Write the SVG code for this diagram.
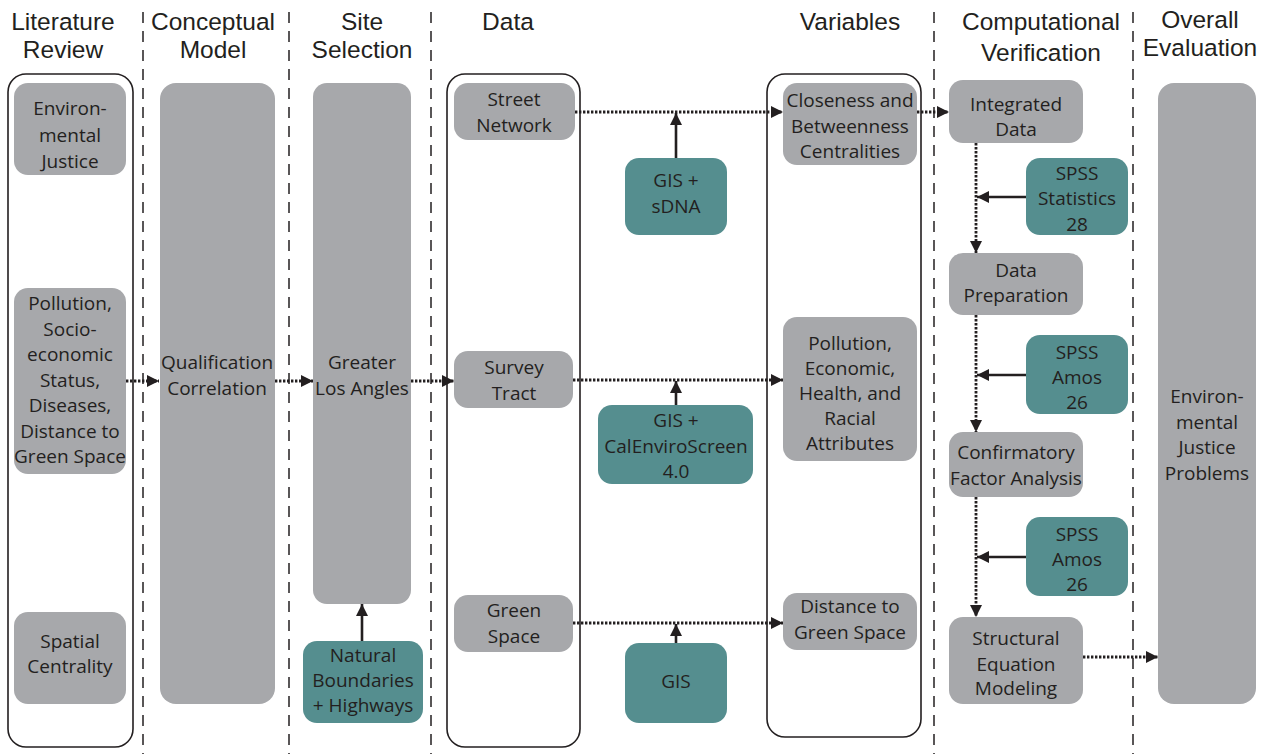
<svg xmlns="http://www.w3.org/2000/svg" width="1266" height="754" viewBox="0 0 1266 754">
<defs>
<marker id="ah" viewBox="0 0 12 12" refX="12" refY="6" markerWidth="12" markerHeight="12" markerUnits="userSpaceOnUse" orient="auto">
<path d="M0,0 L12,6 L0,12 Z" fill="#231F20"/>
</marker>
</defs>
<style>
text{font-family:"Open Sans","Liberation Sans",sans-serif;fill:#231F20;text-anchor:middle}
.h{font-family:"Liberation Sans","Open Sans",sans-serif;font-size:24.5px}
.t{font-size:19px}
.g{fill:#A7A8AB}
.k{fill:#558E8F}
.o{fill:none;stroke:#231F20;stroke-width:1.6}
.d{stroke:#231F20;stroke-width:1.5;stroke-dasharray:11 8;fill:none}
.dot{stroke:#231F20;stroke-width:2.8;stroke-dasharray:2.4 1.6;fill:none}
.sol{stroke:#231F20;stroke-width:2.6;fill:none}
</style>
<rect width="1266" height="754" fill="#fff"/>
<g id="dividers">
<line class="d" x1="143" y1="12" x2="143" y2="754"/>
<line class="d" x1="289" y1="12" x2="289" y2="754"/>
<line class="d" x1="431" y1="12" x2="431" y2="754"/>
<line class="d" x1="934" y1="12" x2="934" y2="754"/>
<line class="d" x1="1133" y1="12" x2="1133" y2="754"/>
</g>
<g id="headers">
<text class="h" x="63" y="30">Literature</text><text class="h" x="63" y="58">Review</text>
<text class="h" x="213" y="30">Conceptual</text><text class="h" x="213" y="58">Model</text>
<text class="h" x="362" y="30">Site</text><text class="h" x="362" y="58">Selection</text>
<text class="h" x="508" y="30">Data</text>
<text class="h" x="850" y="30">Variables</text>
<text class="h" x="1041" y="30">Computational</text><text class="h" x="1041" y="61">Verification</text>
<text class="h" x="1200" y="28">Overall</text><text class="h" x="1200" y="56">Evaluation</text>
</g>
<g id="outlines">
<rect class="o" x="8" y="74" width="125" height="673" rx="18"/>
<rect class="o" x="447" y="74" width="133" height="673" rx="18"/>
<rect class="o" x="767" y="74" width="154" height="663" rx="18"/>
</g>
<g id="env-justice"><rect class="g" x="14" y="83" width="112" height="92" rx="14"/>
<text class="t" x="70" y="115">Environ-</text><text class="t" x="70" y="142">mental</text><text class="t" x="70" y="168">Justice</text></g>
<g id="pollution-lit"><rect class="g" x="14" y="288" width="112" height="186" rx="14"/>
<text class="t" x="70" y="310">Pollution,</text><text class="t" x="70" y="335.5">Socio-</text><text class="t" x="70" y="361">economic</text><text class="t" x="70" y="386.5">Status,</text><text class="t" x="70" y="412">Diseases,</text><text class="t" x="70" y="437.5">Distance to</text><text class="t" x="70" y="463">Green Space</text></g>
<g id="spatial-centrality"><rect class="g" x="14" y="612" width="112" height="92" rx="14"/>
<text class="t" x="70" y="648">Spatial</text><text class="t" x="70" y="673">Centrality</text></g>
<g id="qualification"><rect class="g" x="160" y="83" width="115" height="621" rx="16"/>
<text class="t" x="217" y="369">Qualification</text><text class="t" x="217" y="395">Correlation</text></g>
<g id="greater-la"><rect class="g" x="313" y="83" width="98" height="521" rx="14"/>
<text class="t" x="362" y="369">Greater</text><text class="t" x="362" y="395">Los Angles</text></g>
<g id="natural-boundaries"><rect class="k" x="303" y="641" width="120" height="82" rx="14"/>
<text class="t" x="363" y="662">Natural</text><text class="t" x="363" y="687">Boundaries</text><text class="t" x="363" y="712">+ Highways</text></g>
<g id="street-network"><rect class="g" x="454" y="83" width="121" height="57" rx="14"/>
<text class="t" x="514" y="106">Street</text><text class="t" x="514" y="132">Network</text></g>
<g id="survey-tract"><rect class="g" x="454" y="351" width="119" height="57" rx="14"/>
<text class="t" x="514" y="374">Survey</text><text class="t" x="514" y="400">Tract</text></g>
<g id="green-space"><rect class="g" x="454" y="595" width="119" height="57" rx="14"/>
<text class="t" x="514" y="617">Green</text><text class="t" x="514" y="643">Space</text></g>
<g id="gis-sdna"><rect class="k" x="625" y="158" width="102" height="77" rx="14"/>
<text class="t" x="676" y="187">GIS +</text><text class="t" x="676" y="213">sDNA</text></g>
<g id="gis-calenviro"><rect class="k" x="598" y="405" width="155" height="79" rx="14"/>
<text class="t" x="676" y="427">GIS +</text><text class="t" x="676" y="453">CalEnviroScreen</text><text class="t" x="676" y="478">4.0</text></g>
<g id="gis"><rect class="k" x="625" y="643" width="102" height="80" rx="14"/>
<text class="t" x="676" y="688">GIS</text></g>
<g id="closeness"><rect class="g" x="783" y="83" width="134" height="82" rx="14"/>
<text class="t" x="850" y="107">Closeness and</text><text class="t" x="850" y="133">Betweenness</text><text class="t" x="850" y="158">Centralities</text></g>
<g id="pollution-var"><rect class="g" x="783" y="317" width="134" height="144" rx="14"/>
<text class="t" x="850" y="350">Pollution,</text><text class="t" x="850" y="375">Economic,</text><text class="t" x="850" y="400">Health, and</text><text class="t" x="850" y="425">Racial</text><text class="t" x="850" y="450">Attributes</text></g>
<g id="distance-var"><rect class="g" x="783" y="593" width="134" height="57" rx="14"/>
<text class="t" x="850" y="613">Distance to</text><text class="t" x="850" y="639">Green Space</text></g>
<g id="integrated-data"><rect class="g" x="949" y="80" width="134" height="63" rx="14"/>
<text class="t" x="1016" y="111">Integrated</text><text class="t" x="1016" y="136">Data</text></g>
<g id="spss-statistics"><rect class="k" x="1026" y="158" width="102" height="77" rx="14"/>
<text class="t" x="1077" y="180">SPSS</text><text class="t" x="1077" y="205">Statistics</text><text class="t" x="1077" y="231">28</text></g>
<g id="data-preparation"><rect class="g" x="949" y="253" width="134" height="62" rx="14"/>
<text class="t" x="1016" y="277">Data</text><text class="t" x="1016" y="302">Preparation</text></g>
<g id="spss-amos-1"><rect class="k" x="1026" y="335" width="102" height="79" rx="14"/>
<text class="t" x="1077" y="359">SPSS</text><text class="t" x="1077" y="384">Amos</text><text class="t" x="1077" y="409">26</text></g>
<g id="cfa"><rect class="g" x="949" y="432" width="134" height="65" rx="14"/>
<text class="t" x="1016" y="459">Confirmatory</text><text class="t" x="1016" y="485">Factor Analysis</text></g>
<g id="spss-amos-2"><rect class="k" x="1026" y="517" width="102" height="79" rx="14"/>
<text class="t" x="1077" y="541">SPSS</text><text class="t" x="1077" y="566">Amos</text><text class="t" x="1077" y="591">26</text></g>
<g id="sem"><rect class="g" x="949" y="617" width="134" height="87" rx="14"/>
<text class="t" x="1016" y="645">Structural</text><text class="t" x="1016" y="671">Equation</text><text class="t" x="1016" y="695">Modeling</text></g>
<g id="overall"><rect class="g" x="1158" y="83" width="98" height="621" rx="16"/>
<text class="t" x="1207" y="403">Environ-</text><text class="t" x="1207" y="429">mental</text><text class="t" x="1207" y="454">Justice</text><text class="t" x="1207" y="480">Problems</text></g>
<g id="connectors">
<line class="dot" x1="126" y1="381" x2="159" y2="381" marker-end="url(#ah)"/>
<line class="dot" x1="275" y1="381" x2="313" y2="381" marker-end="url(#ah)"/>
<line class="dot" x1="411" y1="381" x2="454" y2="381" marker-end="url(#ah)"/>
<line class="dot" x1="575" y1="112" x2="783" y2="112" marker-end="url(#ah)"/>
<line class="dot" x1="573" y1="380" x2="783" y2="380" marker-end="url(#ah)"/>
<line class="dot" x1="573" y1="623" x2="783" y2="623" marker-end="url(#ah)"/>
<line class="dot" x1="917" y1="112" x2="949" y2="112" marker-end="url(#ah)"/>
<line class="dot" x1="976" y1="143" x2="976" y2="253" marker-end="url(#ah)"/>
<line class="dot" x1="976" y1="315" x2="976" y2="432" marker-end="url(#ah)"/>
<line class="dot" x1="976" y1="497" x2="976" y2="617" marker-end="url(#ah)"/>
<line class="dot" x1="1083" y1="657" x2="1158" y2="657" marker-end="url(#ah)"/>
<line class="sol" x1="676" y1="158" x2="676" y2="113" marker-end="url(#ah)"/>
<line class="sol" x1="676" y1="405" x2="676" y2="381" marker-end="url(#ah)"/>
<line class="sol" x1="676" y1="643" x2="676" y2="624" marker-end="url(#ah)"/>
<line class="sol" x1="362" y1="641" x2="362" y2="604" marker-end="url(#ah)"/>
<line class="sol" x1="1026" y1="197" x2="977" y2="197" marker-end="url(#ah)"/>
<line class="sol" x1="1026" y1="375" x2="977" y2="375" marker-end="url(#ah)"/>
<line class="sol" x1="1026" y1="557" x2="977" y2="557" marker-end="url(#ah)"/>
</g>
</svg>
